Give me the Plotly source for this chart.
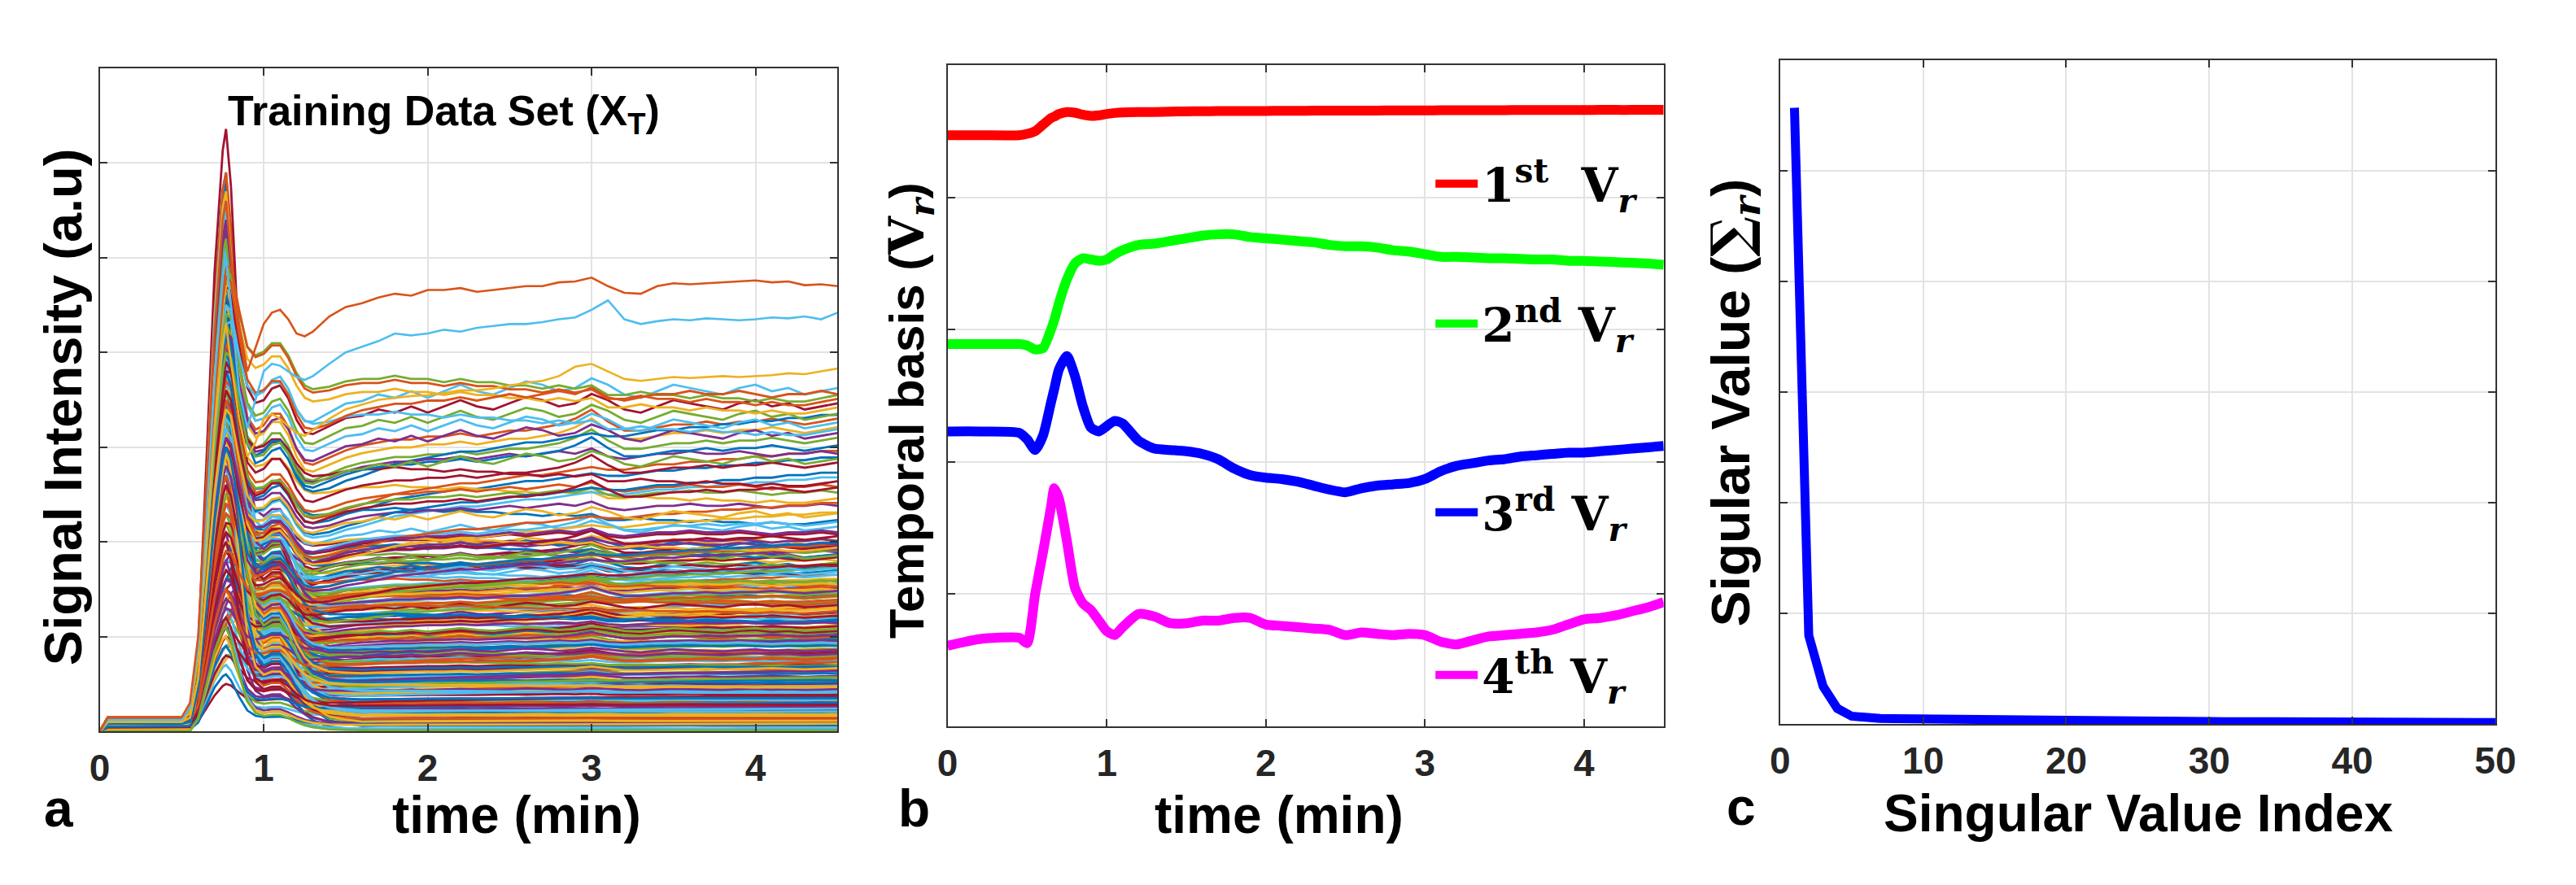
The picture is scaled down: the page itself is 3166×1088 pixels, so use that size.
import numpy as np
import plotly.graph_objects as go

W, H = 3166, 1088

# ---------------- Panel a : training data set ----------------
t_a = [0.0, 0.05, 0.1, 0.2, 0.3, 0.4, 0.5,
       0.55, 0.6, 0.65, 0.7, 0.75, 0.77, 0.8, 0.85, 0.9, 0.95,
       1.0, 1.05, 1.1, 1.15, 1.2, 1.25, 1.3,
       1.4, 1.5, 1.6, 1.7, 1.8, 1.9, 2.0,
       2.1, 2.2, 2.3, 2.4, 2.5, 2.6, 2.7, 2.8, 2.9, 3.0,
       3.1, 3.2, 3.3, 3.4, 3.5, 3.6, 3.7, 3.8, 3.9, 4.0,
       4.1, 4.2, 4.3, 4.4, 4.5]

# first-pass bolus shape (normalised to its peak)
bolus_shape = [0, 0, 0, 0, 0, 0, 0,
               0.0, 0.12, 0.44, 0.77, 0.97, 1.0, 0.88, 0.55, 0.28, 0.17,
               0.14, 0.15, 0.15, 0.12, 0.08, 0.05, 0.03,
               0.01, 0.004, 0, 0, 0, 0, 0,
               0, 0, 0, 0, 0, 0, 0, 0, 0, 0,
               0, 0, 0, 0, 0, 0, 0, 0, 0, 0,
               0, 0, 0, 0, 0]
baseline_shape = [0.0] + [1.0] * 55

# uptake / plateau shapes (normalised to late level)
uptake_shapes = [
    [0, 0, 0, 0, 0, 0, 0,
     0.02, 0.1, 0.25, 0.42, 0.58, 0.63, 0.7, 0.78, 0.84, 0.88,
     0.91, 0.93, 0.93, 0.91, 0.88, 0.86, 0.87,
     0.9, 0.93, 0.95, 0.96, 0.97, 0.97, 0.98,
     0.98, 0.99, 0.98, 0.99, 1.0, 0.99, 1.0, 1.01, 1.0, 1.02,
     0.99, 0.98, 0.99, 1.0, 1.0, 1.01, 1.0, 1.0, 1.01, 1.0,
     0.99, 1.0, 1.0, 1.01, 1.0],
    [0, 0, 0, 0, 0, 0, 0,
     0.01, 0.06, 0.16, 0.28, 0.4, 0.44, 0.5, 0.58, 0.64, 0.68,
     0.72, 0.74, 0.75, 0.74, 0.72, 0.71, 0.72,
     0.75, 0.78, 0.8, 0.82, 0.84, 0.85, 0.86,
     0.87, 0.88, 0.88, 0.89, 0.9, 0.91, 0.91, 0.92, 0.93, 0.94,
     0.93, 0.93, 0.94, 0.95, 0.95, 0.96, 0.96, 0.97, 0.97, 0.98,
     0.98, 0.99, 0.99, 1.0, 1.0],
    [0, 0, 0, 0, 0, 0, 0,
     0.03, 0.14, 0.32, 0.52, 0.7, 0.76, 0.84, 0.92, 0.98, 1.02,
     1.05, 1.07, 1.07, 1.05, 1.02, 1.0, 1.0,
     1.02, 1.04, 1.05, 1.05, 1.06, 1.05, 1.05,
     1.04, 1.05, 1.04, 1.04, 1.03, 1.03, 1.02, 1.03, 1.02, 1.03,
     1.0, 1.0, 1.01, 1.0, 1.0, 0.99, 1.0, 0.99, 0.99, 0.98,
     0.99, 0.98, 0.98, 0.99, 1.0],
    [0, 0, 0, 0, 0, 0, 0,
     0.02, 0.11, 0.28, 0.46, 0.62, 0.67, 0.74, 0.81, 0.86, 0.89,
     0.92, 0.95, 0.96, 0.94, 0.9, 0.88, 0.89,
     0.93, 0.96, 0.97, 0.99, 0.98, 1.0, 0.98,
     1.0, 1.02, 1.0, 0.99, 1.01, 1.03, 1.02, 1.0, 1.01, 1.04,
     1.02, 0.99, 0.98, 1.0, 1.02, 1.01, 1.0, 0.99, 1.01, 1.02,
     1.0, 1.01, 0.99, 1.0, 1.01],
    [0, 0, 0, 0, 0, 0, 0,
     0.02, 0.09, 0.22, 0.38, 0.53, 0.58, 0.64, 0.72, 0.78, 0.83,
     0.87, 0.9, 0.9, 0.88, 0.84, 0.82, 0.83,
     0.87, 0.9, 0.92, 0.93, 0.94, 0.94, 0.95,
     0.95, 0.96, 0.95, 0.96, 0.97, 0.97, 0.98, 0.99, 1.01, 1.04,
     1.0, 0.97, 0.97, 0.98, 0.99, 0.99, 1.0, 0.99, 1.0, 1.0,
     1.01, 1.0, 0.99, 1.0, 1.01],
]

# dense group of curves (plateau level, peak height at t=0.77, baseline, shape id)
dense_level = [0.04, 0.31, 0.77, 1.12, 0.58, 1.46, 0.19, 0.93, 1.63, 0.42,
               1.27, 0.09, 0.66, 1.78, 0.25, 1.05, 0.51, 1.38, 0.83, 0.14,
               1.55, 0.36, 1.19, 0.71, 1.70, 0.47, 0.98, 0.22, 1.31, 0.61,
               1.84, 0.11, 0.88, 1.43, 0.33, 1.09, 0.55, 1.66, 0.27, 0.79,
               1.22, 0.06, 0.68, 1.51, 0.39, 1.01, 0.17, 1.35, 0.74, 1.59,
               0.45, 0.92, 1.74, 0.29, 1.15, 0.63, 0.13, 1.41, 0.86, 0.52,
               1.25, 0.37, 1.68, 0.02, 0.96, 1.48, 0.24, 0.72, 1.08, 0.44,
               1.81, 0.57, 1.18, 0.08, 0.81, 1.33, 0.34, 1.61, 0.65, 1.02,
               0.21, 1.45, 0.49, 0.90, 1.72, 0.16, 1.12, 0.59, 1.29, 0.40,
               0.75, 1.56, 0.26, 0.99, 0.07, 1.37, 0.69, 1.79, 0.46, 0.84,
               1.21, 0.31, 1.64, 0.54, 0.12, 1.06, 0.78, 1.42, 0.23, 0.95,
               1.53, 0.62, 0.18, 1.27, 0.43, 1.86, 0.70, 0.03, 1.14, 0.88,
               0.10, 0.48, 0.85, 1.32, 0.28, 1.60, 0.05, 0.67, 1.17, 0.38,
               1.75, 0.20, 0.95, 0.53, 1.40, 0.15, 1.03, 0.62, 1.50, 0.32,
               0.80, 1.24, 0.09, 0.72, 1.58, 0.42, 1.10, 0.26, 0.89, 1.36,
               0.56, 1.69, 0.18, 0.99, 0.47, 1.30, 0.07, 0.76, 1.45, 0.35,
               1.20, 0.60, 1.82, 0.13, 0.91, 0.50, 1.57, 0.24, 1.07, 0.68,
               0.41, 1.34, 0.01, 0.83, 1.62, 0.30, 1.16, 0.58, 1.77, 0.97]
dense_peak = [5.9, 2.1, 0.9, 3.4, 4.7, 1.6, 2.8, 5.2, 1.4, 3.9,
              1.9, 4.4, 0.8, 2.5, 5.6, 3.1, 1.0, 4.1, 2.2, 0.7,
              3.6, 5.0, 1.7, 2.9, 1.3, 4.6, 1.9, 3.3, 5.4, 0.9,
              2.4, 4.0, 1.3, 3.7, 0.5, 5.8, 2.0, 4.3, 1.1, 3.0,
              1.2, 2.7, 4.9, 1.6, 3.5, 5.3, 0.9, 2.3, 4.5, 1.8,
              3.8, 0.4, 5.1, 2.6, 1.8, 4.2, 3.2, 1.2, 5.5, 2.0,
              1.6, 4.8, 1.5, 3.4, 2.9, 5.7, 1.0, 4.0, 2.4, 0.8,
              3.6, 1.5, 5.0, 2.1, 1.2, 4.4, 3.0, 1.9, 5.3, 1.1,
              2.7, 4.6, 1.3, 3.3, 1.6, 5.6, 2.2, 3.9, 1.7, 4.9,
              1.1, 3.1, 5.2, 2.5, 1.1, 4.3, 0.9, 3.7, 2.0, 5.9,
              1.4, 4.1, 2.8, 1.0, 3.5, 1.6, 4.7, 1.4, 3.0, 2.3,
              5.4, 1.0, 3.8, 0.8, 4.5, 1.8, 2.6, 1.2, 6.36, 3.2,
              2.6, 4.4, 1.5, 3.8, 5.5, 2.2, 0.6, 4.9, 3.1, 1.8,
              2.9, 5.1, 1.9, 3.5, 2.4, 4.7, 1.6, 3.0, 5.0, 1.2,
              4.2, 2.3, 5.7, 1.4, 3.6, 2.8, 4.6, 0.9, 3.3, 2.0,
              5.3, 2.5, 3.9, 1.7, 4.8, 2.7, 1.0, 4.1, 3.4, 5.6,
              2.1, 4.5, 2.4, 3.2, 1.3, 5.2, 3.7, 2.0, 4.3, 1.5,
              3.0, 5.4, 1.1, 4.0, 2.6, 3.5, 1.9, 4.9, 2.8, 3.3]
dense_base = [0.02, 0.06, 0.09, 0.12, 0.05, 0.14, 0.03, 0.1, 0.13, 0.07,
              0.11, 0.01, 0.08, 0.15, 0.04, 0.12, 0.06, 0.13, 0.09, 0.02,
              0.14, 0.05, 0.11, 0.08, 0.15, 0.06, 0.1, 0.03, 0.12, 0.07,
              0.15, 0.02, 0.09, 0.13, 0.05, 0.11, 0.07, 0.14, 0.04, 0.08,
              0.12, 0.01, 0.08, 0.14, 0.06, 0.1, 0.03, 0.13, 0.07, 0.14,
              0.05, 0.09, 0.15, 0.04, 0.11, 0.07, 0.02, 0.13, 0.09, 0.06,
              0.12, 0.05, 0.14, 0.0, 0.1, 0.13, 0.03, 0.08, 0.11, 0.06,
              0.15, 0.07, 0.12, 0.01, 0.09, 0.13, 0.05, 0.14, 0.08, 0.1,
              0.03, 0.13, 0.06, 0.09, 0.15, 0.02, 0.11, 0.07, 0.12, 0.05,
              0.08, 0.14, 0.04, 0.1, 0.01, 0.12, 0.08, 0.15, 0.06, 0.09,
              0.11, 0.04, 0.14, 0.07, 0.02, 0.1, 0.08, 0.13, 0.03, 0.09,
              0.14, 0.07, 0.02, 0.12, 0.05, 0.15, 0.08, 0.0, 0.11, 0.09,
              0.03, 0.07, 0.1, 0.13, 0.05, 0.14, 0.02, 0.09, 0.12, 0.06,
              0.15, 0.04, 0.1, 0.08, 0.13, 0.03, 0.11, 0.08, 0.14, 0.05,
              0.1, 0.12, 0.02, 0.09, 0.14, 0.06, 0.11, 0.04, 0.1, 0.13,
              0.08, 0.15, 0.03, 0.11, 0.07, 0.12, 0.01, 0.09, 0.13, 0.06,
              0.12, 0.08, 0.15, 0.03, 0.1, 0.07, 0.14, 0.04, 0.11, 0.09,
              0.06, 0.13, 0.0, 0.1, 0.14, 0.05, 0.11, 0.08, 0.15, 0.1]
dense_shape = [0, 1, 2, 3, 4, 2, 0, 3, 1, 4, 1, 3, 0, 2, 4, 1, 3, 0, 4, 2,
               2, 4, 1, 0, 3, 4, 2, 1, 0, 3, 3, 0, 4, 2, 1, 3, 4, 0, 2, 1,
               4, 2, 3, 1, 0, 2, 0, 4, 3, 1, 1, 3, 0, 4, 2, 0, 1, 3, 2, 4,
               2, 0, 4, 1, 3, 1, 4, 2, 0, 3, 3, 1, 2, 0, 4, 4, 0, 3, 1, 2,
               0, 4, 1, 3, 2, 3, 2, 0, 4, 1, 4, 2, 3, 1, 0, 1, 3, 4, 2, 0,
               1, 0, 2, 4, 3, 2, 1, 0, 3, 4, 3, 4, 0, 2, 1, 0, 2, 3, 4, 1,
               2, 4, 0, 1, 3, 0, 2, 4, 1, 3, 4, 1, 3, 0, 2, 3, 0, 2, 4, 1,
               0, 2, 4, 3, 1, 2, 4, 1, 3, 0, 1, 3, 2, 4, 0, 4, 1, 3, 0, 2,
               3, 0, 1, 2, 4, 1, 3, 0, 2, 4, 2, 4, 3, 0, 1, 0, 2, 4, 1, 3]

# middle group of curves
mid_level = [3.45, 1.98, 2.76, 3.15, 2.35, 1.88, 2.92, 2.56, 3.30, 2.13,
             2.84, 3.04, 2.27, 3.40, 2.05, 2.68, 3.22, 2.48, 1.86, 2.98,
             2.41, 3.10, 1.94, 2.61, 3.36, 2.22, 2.80, 3.18, 2.09, 2.52,
             2.88, 2.31, 3.27, 2.01, 2.72, 3.07, 2.44, 1.91, 3.42, 2.18]
mid_peak = [4.4, 3.2, 4.0, 4.6, 3.6, 3.0, 4.3, 3.9, 4.7, 3.4,
            4.1, 4.5, 3.5, 4.8, 3.3, 3.9, 4.6, 3.7, 2.9, 4.2,
            3.6, 4.5, 3.1, 3.8, 4.9, 3.5, 4.0, 4.4, 3.2, 3.8,
            4.2, 3.5, 4.7, 3.1, 4.0, 4.3, 3.6, 3.0, 4.8, 3.4]
mid_base = [0.14, 0.1, 0.13, 0.12, 0.11, 0.09, 0.15, 0.12, 0.13, 0.1,
            0.12, 0.14, 0.11, 0.15, 0.09, 0.13, 0.12, 0.1, 0.08, 0.14,
            0.11, 0.13, 0.1, 0.12, 0.15, 0.09, 0.13, 0.14, 0.1, 0.12,
            0.11, 0.1, 0.15, 0.09, 0.13, 0.12, 0.11, 0.08, 0.14, 0.1]
mid_shape = [3, 0, 1, 4, 2, 0, 4, 1, 3, 2, 1, 4, 0, 2, 3, 4, 1, 0, 2, 3,
             0, 3, 4, 1, 2, 1, 0, 3, 4, 2, 4, 1, 2, 0, 3, 2, 4, 1, 0, 3]

# the three highest individual curves
top_orange = [0.0, 0.15, 0.15, 0.15, 0.15, 0.15, 0.15,
              0.3, 1.0, 2.6, 4.2, 5.4, 5.6, 5.0, 4.3, 3.8, 4.05,
              4.3, 4.42, 4.45, 4.35, 4.2, 4.17, 4.22,
              4.38, 4.48, 4.52, 4.58, 4.62, 4.6, 4.66,
              4.66, 4.68, 4.64, 4.66, 4.68, 4.7, 4.7, 4.74, 4.75, 4.79,
              4.7, 4.63, 4.62, 4.7, 4.73, 4.72, 4.73, 4.74, 4.75, 4.76,
              4.74, 4.75, 4.71, 4.72, 4.70]
top_cyan = [0.0, 0.12, 0.12, 0.12, 0.12, 0.12, 0.12,
            0.25, 0.9, 2.3, 3.7, 4.8, 5.0, 4.5, 3.6, 3.2, 3.5,
            3.8, 3.88, 3.86, 3.8, 3.74, 3.71, 3.75,
            3.88, 4.0, 4.06, 4.12, 4.2, 4.18, 4.2,
            4.24, 4.22, 4.26, 4.28, 4.3, 4.3, 4.32, 4.35, 4.37, 4.45,
            4.55, 4.35, 4.3, 4.33, 4.35, 4.34, 4.36, 4.35, 4.34, 4.35,
            4.37, 4.36, 4.38, 4.35, 4.42]
top_yellow = [0.0, 0.1, 0.1, 0.1, 0.1, 0.1, 0.1,
              0.2, 0.8, 2.0, 3.2, 4.1, 4.3, 3.9, 3.3, 2.9, 3.05,
              3.3, 3.35, 3.3, 3.22, 3.15, 3.12, 3.18,
              3.3, 3.4, 3.45, 3.5, 3.52, 3.54, 3.55,
              3.57, 3.6, 3.6, 3.62, 3.65, 3.68, 3.7, 3.75, 3.85, 3.88,
              3.8, 3.72, 3.7, 3.72, 3.74, 3.73, 3.74, 3.75, 3.74, 3.75,
              3.76, 3.78, 3.77, 3.8, 3.83]

# ---------------- Panel b : temporal basis ----------------
t_b = [0.0, 0.2, 0.45, 0.5, 0.55, 0.6, 0.65, 0.67, 0.7, 0.75,
       0.8, 0.85, 0.9, 0.95, 1.0, 1.05, 1.1, 1.2, 1.3, 1.4,
       1.5, 1.6, 1.7, 1.8, 1.9, 2.0,
       2.1, 2.2, 2.3, 2.4, 2.5, 2.6, 2.7, 2.8, 2.9, 3.0,
       3.1, 3.2, 3.3, 3.4, 3.5, 3.6, 3.7, 3.8, 3.9, 4.0,
       4.1, 4.2, 4.3, 4.4, 4.5]
v1 = [4.47, 4.47, 4.47, 4.48, 4.5, 4.55, 4.6, 4.61, 4.63, 4.645,
      4.64, 4.625, 4.615, 4.62, 4.63, 4.638, 4.642, 4.645, 4.645, 4.648,
      4.65, 4.651, 4.652, 4.652, 4.653, 4.653,
      4.654, 4.654, 4.655, 4.655, 4.655, 4.656, 4.656, 4.657, 4.657, 4.657,
      4.658, 4.658, 4.658, 4.659, 4.659, 4.66, 4.66, 4.66, 4.66, 4.66,
      4.661, 4.661, 4.661, 4.662, 4.662]
v2 = [2.89, 2.89, 2.89, 2.88, 2.85, 2.86, 3.0, 3.07, 3.2, 3.38,
      3.5, 3.54, 3.53, 3.52, 3.53, 3.57, 3.6, 3.64, 3.65, 3.67,
      3.69, 3.71, 3.72, 3.72, 3.7, 3.69,
      3.68, 3.67, 3.66, 3.64, 3.63, 3.63, 3.62, 3.6, 3.59, 3.57,
      3.55, 3.55, 3.545, 3.54, 3.54, 3.535, 3.53, 3.53, 3.52, 3.52,
      3.515, 3.51, 3.505, 3.5, 3.49]
v3 = [2.23, 2.23, 2.22, 2.17, 2.09, 2.2, 2.45, 2.55, 2.7, 2.8,
      2.65, 2.42, 2.26, 2.23, 2.27, 2.31, 2.29, 2.16, 2.1, 2.09,
      2.08, 2.06, 2.02, 1.95, 1.9, 1.88,
      1.87, 1.85, 1.82, 1.79, 1.77, 1.8, 1.82, 1.83, 1.84, 1.87,
      1.93, 1.97, 1.99, 2.01, 2.02, 2.04, 2.05, 2.06, 2.07, 2.07,
      2.08, 2.09, 2.1, 2.11, 2.12]
v4 = [0.61, 0.66, 0.67, 0.63, 1.0, 1.32, 1.66, 1.8, 1.72, 1.4,
      1.05, 0.93, 0.88, 0.8, 0.72, 0.69, 0.75, 0.85, 0.83, 0.78,
      0.78, 0.8, 0.8, 0.82, 0.82, 0.77,
      0.76, 0.75, 0.74, 0.73, 0.69, 0.71, 0.7, 0.69, 0.7, 0.69,
      0.64, 0.62, 0.65, 0.68, 0.69, 0.7, 0.71, 0.73, 0.77, 0.81,
      0.82, 0.84, 0.87, 0.9, 0.94]
basis_names = ["1<sup>st</sup>  V<sub><i>r</i></sub>", "2<sup>nd</sup> V<sub><i>r</i></sub>",
               "3<sup>rd</sup> V<sub><i>r</i></sub>", "4<sup>th</sup> V<sub><i>r</i></sub>"]

# ---------------- Panel c : singular values ----------------
sv_index = list(range(1, 51))
sv_value = [5.57, 0.80, 0.34, 0.14, 0.07, 0.055, 0.05, 0.047, 0.045, 0.042,
            0.040, 0.038, 0.036, 0.035, 0.033, 0.032, 0.031, 0.030, 0.029, 0.028,
            0.027, 0.026, 0.026, 0.025, 0.024, 0.024, 0.023, 0.023, 0.022, 0.022,
            0.021, 0.021, 0.020, 0.020, 0.019, 0.019, 0.018, 0.018, 0.017, 0.017,
            0.016, 0.016, 0.015, 0.015, 0.014, 0.014, 0.013, 0.013, 0.012, 0.012]

for name, arr in [("bolus", bolus_shape), ("orange", top_orange), ("cyan", top_cyan),
                  ("yellow", top_yellow)] + [("u%d" % i, u) for i, u in enumerate(uptake_shapes)]:
    assert len(arr) == len(t_a), (name, len(arr))
for arr in (v1, v2, v3, v4):
    assert len(arr) == len(t_b)
assert len(dense_level) == len(dense_peak) == len(dense_base) == len(dense_shape)
assert len(mid_level) == len(mid_peak) == len(mid_base) == len(mid_shape)

# ---------------- styling ----------------
MATLAB = ['#0072BD', '#D95319', '#EDB120', '#7E2F8E', '#77AC30', '#4DBEEE', '#A2142F']
AX = '#333333'
GRID = '#e3e3e3'
TICKFONT = dict(family='Liberation Sans, Arial', size=46, color='#262626', weight='bold')
TITLEFONT = dict(family='Liberation Sans, Arial', size=64, color='black', weight='bold')


def px_x(p):
    return p / W


def px_y(p):
    return 1 - p / H


fig = go.Figure()

B = np.array(bolus_shape)
S = np.array(baseline_shape)
U = [np.array(u) for u in uptake_shapes]


def add_curve(level, peak, base, shape, color):
    u = U[shape]
    amp = max(peak - base - level * u[12], 0.05)
    y = base * S + amp * B + level * u
    fig.add_trace(go.Scatter(x=t_a, y=y, mode='lines', line=dict(color=color, width=2.8),
                             showlegend=False, hoverinfo='skip', xaxis='x', yaxis='y'))


k = 0
for i in range(len(dense_level)):
    add_curve(dense_level[i], dense_peak[i], dense_base[i], dense_shape[i], MATLAB[k % 7])
    k += 1
for i in range(len(mid_level)):
    add_curve(mid_level[i], mid_peak[i], mid_base[i], mid_shape[i], MATLAB[k % 7])
    k += 1
for arr, col in [(top_yellow, '#EDB120'), (top_cyan, '#4DBEEE'), (top_orange, '#D95319')]:
    fig.add_trace(go.Scatter(x=t_a, y=arr, mode='lines', line=dict(color=col, width=2.6),
                             showlegend=False, hoverinfo='skip', xaxis='x', yaxis='y'))

basis_colors = ['#FF0000', '#00FF00', '#0000FF', '#FF00FF']
legend_ids = ['legend', 'legend2', 'legend3', 'legend4']
for arr, col, nm, lg in zip([v1, v2, v3, v4], basis_colors, basis_names, legend_ids):
    fig.add_trace(go.Scatter(x=t_b, y=arr, mode='lines', name=nm,
                             line=dict(color=col, width=12, shape='spline', smoothing=0.6),
                             legend=lg, xaxis='x2', yaxis='y2'))

fig.add_trace(go.Scatter(x=sv_index, y=sv_value, mode='lines', line=dict(color='#0000FF', width=11),
                         showlegend=False, xaxis='x3', yaxis='y3'))


def xaxis(dom, rng, dtick, anchor):
    return dict(domain=dom, range=rng, dtick=dtick, tick0=0, anchor=anchor,
                showline=True, linecolor=AX, linewidth=2, mirror='ticks',
                ticks='inside', ticklen=9, tickwidth=1.5, tickcolor=AX,
                showgrid=True, gridcolor=GRID, gridwidth=1.5, zeroline=False,
                tickfont=TICKFONT, ticklabelstandoff=4)


def yaxis(dom, rng, anchor):
    return dict(domain=dom, range=rng, dtick=1, tick0=0, anchor=anchor,
                showline=True, linecolor=AX, linewidth=2, mirror='ticks',
                ticks='inside', ticklen=9, tickwidth=1.5, tickcolor=AX,
                showgrid=True, gridcolor=GRID, gridwidth=1.5, zeroline=False,
                showticklabels=False)


legend_y = [226, 398, 630, 830]
legends = {}
for lg, yy in zip(legend_ids, legend_y):
    legends[lg] = dict(x=px_x(1768), y=px_y(yy), xanchor='left', yanchor='middle',
                       bgcolor='rgba(0,0,0,0)', borderwidth=0, itemwidth=52,
                       font=dict(family='DejaVu Serif', size=58, color='black', weight='bold'))


def ann(text, x, y, font, angle=0, xanchor='center', yanchor='middle'):
    return dict(text=text, x=px_x(x), y=px_y(y), xref='paper', yref='paper',
                showarrow=False, textangle=angle, font=font,
                xanchor=xanchor, yanchor=yanchor)


annotations = [
    ann('Training Data Set (X<sub>T</sub>)', 268, 140, dict(TITLEFONT, size=52), xanchor='left'),
    ann('Signal Intensity (a.u)', 66, 500, dict(TITLEFONT, size=65), angle=-90),
    ann('time (min)', 630, 1002, TITLEFONT),
    ann('Temporal basis (<span style="font-family:DejaVu Serif">V<sub><i>r</i></sub></span>)',
        1120, 505, dict(TITLEFONT, size=60), angle=-90),
    ann('time (min)', 1578, 1002, TITLEFONT),
    ann('Sigular Value (<span style="font-family:DejaVu Serif">\u2211<sub><i>r</i></sub></span>)',
        2144, 495, dict(TITLEFONT, size=66), angle=-90),
    ann('Singular Value Index', 2648, 1000, TITLEFONT),
    ann('a', 60, 994, TITLEFONT),
    ann('b', 1124, 994, TITLEFONT),
    ann('c', 2154, 992, TITLEFONT),
]

fig.update_layout(
    width=W, height=H,
    margin=dict(l=0, r=0, t=0, b=0),
    paper_bgcolor='white', plot_bgcolor='white',
    xaxis=xaxis([px_x(111), px_x(1029)], [0, 4.5], 1, 'y'),
    yaxis=yaxis([px_y(899), px_y(84)], [0, 7], 'x'),
    xaxis2=xaxis([px_x(1166), px_x(2057)], [0, 4.5], 1, 'y2'),
    yaxis2=yaxis([px_y(893), px_y(80)], [0, 5], 'x2'),
    xaxis3=xaxis([px_x(2202), px_x(3092)], [0, 50], 10, 'y3'),
    yaxis3=yaxis([px_y(890), px_y(74)], [0, 6], 'x3'),
    annotations=annotations,
    **legends,
)

fig.write_html("out.html", config={'displayModeBar': False},
               post_script="document.body.style.margin='0';document.body.style.overflow='hidden';")
